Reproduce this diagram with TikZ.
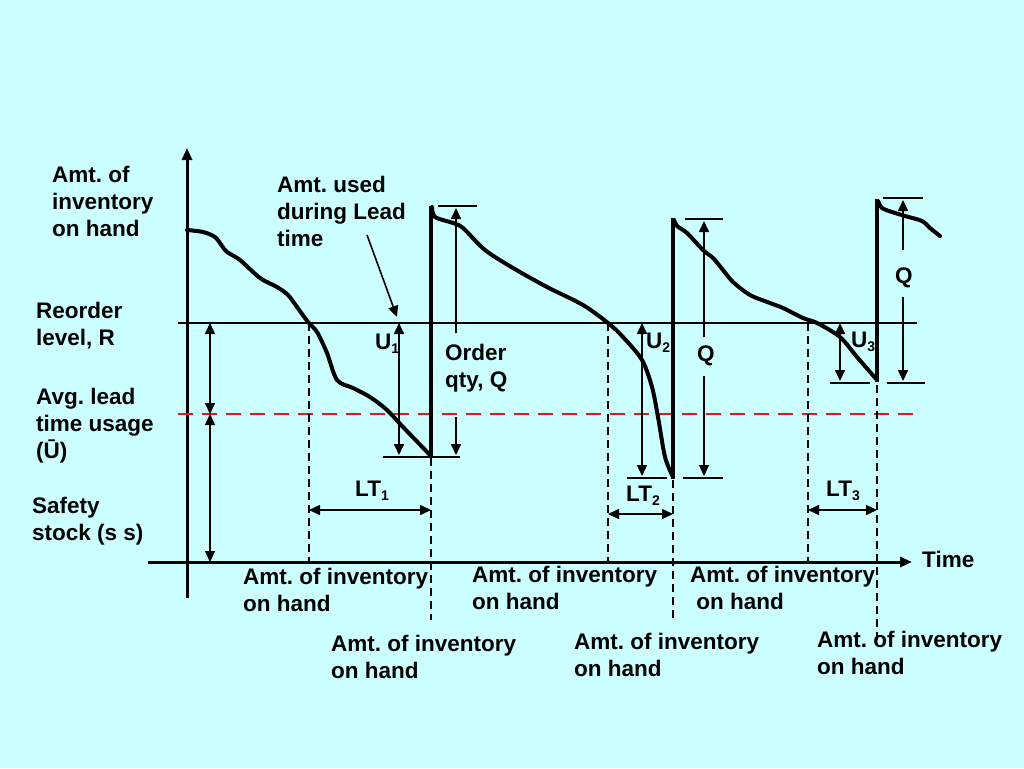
\documentclass[tikz,border=0pt]{standalone}
\usepackage{fontspec}
\setmainfont{Liberation Sans}
\usetikzlibrary{arrows.meta}
\definecolor{bgc}{RGB}{204,255,255}
\definecolor{redd}{RGB}{225,25,25}
\newcommand{\sbs}[1]{\raisebox{-0.3ex}{\fontsize{14}{14}\selectfont #1}}
\frenchspacing
\begin{document}
\begin{tikzpicture}[x=1pt,y=-1pt,
  txt/.style={font=\fontsize{22.5}{27}\selectfont\bfseries, align=left, anchor=north west, inner sep=0pt},
  axisline/.style={line width=3pt, -{Triangle[length=12pt,width=10pt]}},
  curveline/.style={line width=4pt, line join=round, line cap=round},
  jumpline/.style={line width=4.5pt},
  dimboth/.style={line width=1.6pt, {Triangle[length=11pt,width=10pt]}-{Triangle[length=11pt,width=10pt]}},
  dimone/.style={line width=1.6pt, -{Triangle[length=11pt,width=10pt]}},
  tickline/.style={line width=1.8pt},
  vdash/.style={line width=2pt, dash pattern=on 8pt off 5pt},
  reddash/.style={redd, line width=2.5pt, dash pattern=on 15pt off 9pt}]
\fill[bgc] (0,0) rectangle (1024,768);
\useasboundingbox (0,0) rectangle (1024,768);

% axes
\coordinate (yb) at (187,598); \coordinate (yt) at (187,148);
\coordinate (xl) at (148,562); \coordinate (xr) at (912,562);
\draw[axisline] (yb) -- (yt);
\draw[axisline] (xl) -- (xr);
% reorder level and average line
\coordinate (rl) at (178,323); \coordinate (rr) at (917,323);
\draw[line width=2.8pt] (rl) -- (rr);
\coordinate (al) at (178,414); \coordinate (ar) at (917,414);
\draw[reddash] (al) -- (ar);

% dashed verticals
\draw[vdash] (309,323) -- (309,562);
\draw[vdash] (431,458) -- (431,620);
\draw[vdash] (608,323) -- (608,562);
\draw[vdash] (673,480) -- (673,622);
\draw[vdash] (808,323) -- (808,562);
\draw[vdash] (877,385) -- (877,645);

% inventory curve
\draw[curveline] plot[smooth, tension=0.5] coordinates {(187,230) (203,232) (215,237) (222,246) (227,252) (240,260) (260,278) (277,287) (288,295) (297,307) (308,322) (317,332) (327,353) (337,380) (353,388) (370,397) (387,410) (403,427) (430,455)};
\draw[jumpline] (431,457) -- (431,206);
\draw[curveline] plot[smooth, tension=0.5] coordinates {(432,207) (435,217) (453,223) (463,228) (485,250) (513,268) (547,287) (583,305) (608,323) (623,337) (642,360) (652,387) (658,417) (665,457) (673,477)};
\draw[jumpline] (673,479) -- (673,218);
\draw[curveline] plot[smooth, tension=0.5] coordinates {(674,220) (677,226) (687,233) (703,250) (713,258) (723,270) (733,282) (750,295) (770,303) (783,308) (803,318) (817,323) (840,337) (857,357) (877,380)};
\draw[jumpline] (877,382) -- (877,199);
\draw[curveline] plot[smooth, tension=0.5] coordinates {(878,201) (882,208) (892,212) (905,216) (922,221) (930,228) (940,236)};

% left dimension arrows
\draw[dimboth] (210,323) -- (210,414);
\draw[dimboth] (210,414) -- (210,562);

% U1 and order qty
\draw[dimboth] (399,323) -- (399,455);
\draw[tickline] (383,457) -- (460,457);
\draw[tickline] (438,206) -- (477,206);
\draw[dimone] (456,333) -- (456,208);
\draw[dimone] (456,417) -- (456,455);

% U2 and Q
\draw[dimboth] (642,323) -- (642,476);
\draw[tickline] (627,478) -- (667,478);
\draw[tickline] (685,219) -- (723,219);
\draw[tickline] (683,478) -- (723,478);
\draw[dimone] (704,337) -- (704,221);
\draw[dimone] (704,376) -- (704,476);

% U3 and Q
\draw[dimboth] (840,323) -- (840,381);
\draw[tickline] (830,383) -- (870,383);
\draw[tickline] (883,198) -- (923,198);
\draw[tickline] (887,383) -- (925,383);
\draw[dimone] (903,250) -- (903,200);
\draw[dimone] (903,297) -- (903,381);

% lead time arrows
\draw[dimboth] (309,510) -- (431,510);
\draw[dimboth] (608,514) -- (673,514);
\draw[dimboth] (808,510) -- (877,510);

% texts
\node[txt] (amtleft) at (52,166) {Amt. of\\inventory\\on hand};
\node[txt] (reorder) at (36,302) {Reorder\\level, R};
\node[txt] (avg) at (36,388) {Avg. lead\\time usage\\(Ū)};
\node[txt] (safety) at (32,497) {Safety\\stock (s s)};
\node[txt] (used) at (277,176) {Amt. used\\during Lead\\time};
\coordinate (usedtail) at (367,235);
\coordinate (usedhead) at (397,317);
\draw[dimone] (usedtail) -- (usedhead);
\node[txt] (order) at (445,344) {Order\\qty, Q};
\node[txt] (u1) at (375,334) {U\sbs{1}};
\node[txt] (u2) at (646,333) {U\sbs{2}};
\node[txt] (q2) at (697,346) {Q};
\node[txt] (u3) at (851,332) {U\sbs{3}};
\node[txt] (q3) at (895,268) {Q};
\node[txt] (lt1) at (355,481) {LT\sbs{1}};
\node[txt] (lt2) at (626,486) {LT\sbs{2}};
\node[txt] (lt3) at (826,481) {LT\sbs{3}};
\node[txt] (time) at (922,551) {Time};
\node[txt] (b1) at (243,568) {Amt. of inventory\\on hand};
\node[txt] (b2) at (331,635) {Amt. of inventory\\on hand};
\node[txt] (b3) at (472,566) {Amt. of inventory\\on hand};
\node[txt] (b4) at (574,633) {Amt. of inventory\\on hand};
\node[txt] (b5) at (690,566) {Amt. of inventory\\\ on hand};
\node[txt] (b6) at (817,631) {Amt. of inventory\\on hand};
\end{tikzpicture}
\end{document}
